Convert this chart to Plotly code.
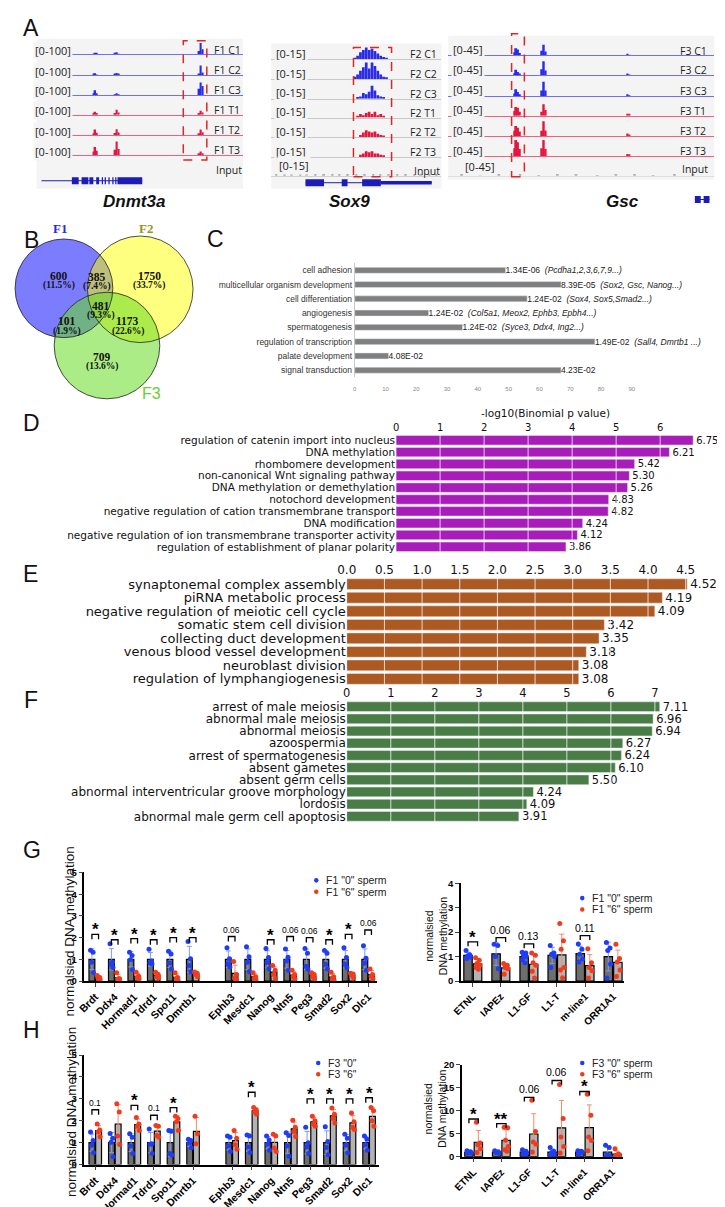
import statistics
import plotly.graph_objects as go

W, H = 725, 1207


def px(x):
    return x / W


def py(y):
    return 1 - y / H


# ---------------- A: browser tracks ----------------
dnmt_tracks = ["F1 C1", "F1 C2", "F1 C3", "F1 T1", "F1 T2", "F1 T3"]
dnmt_bins = [27.6, 28.4, 29.2, 38.1, 38.9, 39.7, 78.8, 79.6, 80.4]
dnmt_signal = [
    [4, 10, 5, 5, 12, 4, 20, 65, 30],
    [5, 11, 4, 6, 12, 5, 10, 55, 15],
    [8, 26, 10, 4, 8, 3, 35, 70, 50],
    [6, 17, 8, 10, 28, 12, 8, 22, 12],
    [12, 33, 15, 14, 35, 16, 12, 33, 18],
    [20, 46, 25, 30, 76, 35, 8, 20, 10],
]
dnmt_span = [2.4, 51.2]
dnmt_exons = [(17.1, 20.4), (21.8, 25.1), (25.6, 27.5), (28.9, 30.3), (31.6, 32.2),
              (33.0, 33.6), (34.8, 35.4), (36.7, 37.3), (38.1, 38.7), (39.2, 51.2)]

sox_tracks = ["F2 C1", "F2 C2", "F2 C3", "F2 T1", "F2 T2", "F2 T3"]
sox_bins = [49, 50.7, 52.4, 54.1, 55.8, 57.5, 59.2, 60.9, 62.6, 64.3, 66, 67.7]
sox_signal = [
    [1, 3, 6, 8, 10, 8, 9, 7, 5, 3, 2, 1],
    [2, 4, 7, 10, 14, 9, 14, 11, 7, 4, 2, 1],
    [0, 1, 2, 5, 4, 6, 11, 7, 3, 2, 1, 0],
    [0, 1, 3, 2, 4, 5, 3, 5, 2, 3, 1, 0],
    [0, 0, 2, 4, 6, 5, 4, 5, 3, 2, 1, 0],
    [0, 0, 2, 3, 5, 4, 5, 3, 3, 2, 1, 0],
]
sox_input_bins = [3, 8, 12, 17, 21, 26, 31, 36, 40, 45, 50, 55, 60, 64, 69, 74, 79, 84, 88, 93, 97]
sox_input = [1.2, 0.8, 1.5, 1.0, 2.0, 0.9, 1.6, 1.1, 0.8, 1.4, 1.0, 1.2, 0.9, 1.5, 1.1, 0.8,
             1.3, 1.0, 1.4, 0.9, 1.2]
sox_span = [20.1, 94.3]
sox_exons = [(20.1, 31.0), (41.4, 44.8), (53.4, 64.4)]
sox_utr = [(64.4, 94.3)]

gsc_tracks = ["F3 C1", "F3 C2", "F3 C3", "F3 T1", "F3 T2", "F3 T3"]
gsc_bins = [24.8, 25.5, 26.2, 26.9, 35.2, 35.9, 36.6, 67.4, 68.1]
gsc_signal = [
    [8, 18, 15, 6, 12, 27, 10, 2, 1],
    [5, 14, 8, 4, 15, 35, 12, 2, 1],
    [6, 17, 10, 4, 14, 36, 14, 2, 1],
    [12, 22, 20, 10, 10, 29, 14, 5, 2],
    [14, 26, 22, 12, 14, 38, 15, 7, 3],
    [20, 41, 35, 18, 20, 41, 18, 5, 3],
]
gsc_input_bins = [5, 12, 19, 27, 34, 41, 48, 56, 63, 70, 77, 85, 92]
gsc_input = [2, 1.5, 3, 2, 1.5, 2.5, 2, 1.5, 3, 2, 1.5, 2.5, 2]
gsc_span = [92.7, 98.2]
gsc_exons = [(92.7, 94.9), (96.0, 98.2)]

# ---------------- B: Venn ----------------
venn_regions = ["F1", "F1&F2", "F2", "F1&F2&F3", "F1&F3", "F2&F3", "F3"]
venn_counts = [600, 385, 1750, 481, 101, 1173, 709]

# ---------------- C ----------------
c_terms = ["cell adhesion", "multicellular organism development", "cell differentiation",
           "angiogenesis", "spermatogenesis", "regulation of transcription",
           "palate development", "signal transduction"]
c_counts = [49, 67, 56, 24, 35, 78, 11, 67]
c_pvals = ["1.34E-06", "8.39E-05", "1.24E-02", "1.24E-02", "1.24E-02", "1.49E-02",
           "4.08E-02", "4.23E-02"]
c_genes = ["(Pcdha1,2,3,6,7,9...)", "(Sox2, Gsc, Nanog...)", "(Sox4, Sox5,Smad2...)",
           "(Col5a1, Meox2, Ephb3, Epbh4...)", "(Syce3, Ddx4, Ing2...)", "(Sall4, Dmrtb1 ...)",
           "", ""]

# ---------------- D / E / F ----------------
d_terms = ["regulation of catenin import into nucleus", "DNA methylation", "rhombomere development",
           "non-canonical Wnt signaling pathway", "DNA methylation or demethylation",
           "notochord development", "negative regulation of cation transmembrane transport",
           "DNA modification", "negative regulation of ion transmembrane transporter activity",
           "regulation of establishment of planar polarity"]
d_vals = [6.75, 6.21, 5.42, 5.30, 5.26, 4.83, 4.82, 4.24, 4.12, 3.86]

e_terms = ["synaptonemal complex assembly", "piRNA metabolic process",
           "negative regulation of meiotic cell cycle", "somatic stem cell division",
           "collecting duct development", "venous blood vessel development",
           "neuroblast division", "regulation of lymphangiogenesis"]
e_vals = [4.52, 4.19, 4.09, 3.42, 3.35, 3.18, 3.08, 3.08]

f_terms = ["arrest of male meiosis", "abnormal male meiosis", "abnormal meiosis", "azoospermia",
           "arrest of spermatogenesis", "absent gametes", "absent germ cells",
           "abnormal interventricular groove morphology", "lordosis",
           "abnormal male germ cell apoptosis"]
f_vals = [7.11, 6.96, 6.94, 6.27, 6.24, 6.10, 5.50, 4.24, 4.09, 3.91]

# ---------------- G / H ----------------
genes = ["Brdt", "Ddx4", "Hormad1", "Tdrd1", "Spo11", "Dmrtb1",
         "Ephb3", "Mesdc1", "Nanog", "Ntn5", "Peg3", "Smad2", "Sox2", "Dlc1"]
gene_slots = [0, 1, 2, 3, 4, 5, 7, 8, 9, 10, 11, 12, 13, 14]
tes = ["ETNL", "IAPEz", "L1-GF", "L1-T", "m-line1", "ORR1A1"]
te_slots = [0, 1, 2, 3, 4, 5]

g_f1_0 = [[1.42, 1.33, 0.87, 0.38], [1.72, 0.88, 0.78, 0.62], [1.33, 1.17, 0.98, 0.52],
          [1.46, 0.92, 0.84, 0.78], [1.37, 1.25, 0.83, 0.55], [1.82, 1.03, 0.72, 0.43],
          [1.53, 1.02, 0.80, 0.65], [1.58, 1.12, 0.86, 0.44], [1.50, 1.08, 0.85, 0.57],
          [1.48, 1.10, 0.92, 0.50], [1.50, 1.28, 0.68, 0.54], [1.40, 1.28, 0.77, 0.55],
          [1.53, 1.08, 0.78, 0.61], [1.63, 1.05, 0.82, 0.50]]
g_f1_6 = [[0.25, 0.16, 0.12, 0.07], [0.38, 0.12, 0.08, 0.02], [0.40, 0.22, 0.16, 0.10],
          [0.40, 0.30, 0.20, 0.14], [0.38, 0.16, 0.10, 0.04], [0.42, 0.36, 0.30, 0.20],
          [0.90, 0.30, 0.14, 0.06], [0.38, 0.20, 0.12, 0.06], [0.72, 0.50, 0.30, 0.10],
          [0.50, 0.30, 0.20, 0.10], [0.38, 0.30, 0.18, 0.10], [0.40, 0.20, 0.10, 0.04],
          [0.36, 0.32, 0.26, 0.14], [0.55, 0.30, 0.22, 0.10]]
g_sig = ["*", "*", "*", "*", "*", "*", "0.06", "", "*", "0.06", "0.06", "*", "*", "0.06"]
g_bracket = [2.15, 1.9, 1.95, 1.9, 2.0, 2.0, 2.05, None, 1.9, 2.05, 2.0, 1.9, 2.15, 2.35]

g_te_0 = [[1.25, 1.08, 1.02, 0.98, 0.92], [1.50, 1.45, 1.00, 0.50],
          [1.18, 1.15, 1.05, 1.00, 0.87, 0.75], [1.45, 1.15, 1.10, 1.00, 0.55],
          [1.52, 1.30, 1.10, 0.90, 0.78], [1.58, 1.35, 1.25, 0.70, 0.12]]
g_te_6 = [[0.95, 0.85, 0.72, 0.65, 0.55, 0.48], [0.72, 0.65, 0.55, 0.50, 0.28],
          [1.15, 1.05, 0.75, 0.65, 0.40, 0.12], [2.35, 1.65, 1.30, 0.55, 0.45, 0.12],
          [1.32, 0.75, 0.55, 0.42, 0.12], [1.50, 0.92, 0.78, 0.45, 0.18]]
g_te_sig = ["*", "0.06", "0.13", "", "0.11", ""]
g_te_bracket = [1.6, 1.78, 1.52, None, 1.86, None]

h_f3_0 = [[1.48, 1.10, 0.88, 0.54], [1.42, 1.20, 1.02, 0.36], [1.40, 1.25, 0.85, 0.50],
          [1.62, 0.95, 0.93, 0.50], [1.55, 1.52, 0.50, 0.43], [1.15, 1.10, 0.98, 0.77],
          [1.30, 1.25, 0.85, 0.60], [1.35, 1.30, 0.80, 0.55], [1.30, 1.12, 0.93, 0.65],
          [1.45, 1.32, 0.85, 0.38], [1.70, 1.00, 0.80, 0.50], [1.72, 1.05, 0.78, 0.45],
          [1.38, 1.20, 0.88, 0.54], [1.30, 1.15, 0.90, 0.65]]
h_f3_6 = [[1.85, 1.58, 1.50, 1.27], [2.78, 2.40, 1.30, 0.92], [2.15, 1.85, 1.75, 1.55],
          [1.78, 1.75, 1.32, 1.25], [2.20, 2.10, 1.95, 1.55], [2.20, 1.40, 0.95],
          [1.55, 1.20, 0.90, 0.70], [2.60, 2.50, 2.40, 2.30], [1.38, 1.30, 0.75, 0.60],
          [2.02, 1.70, 1.50, 1.28], [2.20, 2.00, 1.85, 1.75], [2.58, 2.30, 2.10, 1.90],
          [2.35, 1.95, 1.70, 1.60], [2.60, 2.45, 2.00, 1.75]]
h_sig = ["0.1", "", "*", "0.1", "*", "", "", "*", "", "", "*", "*", "*", "*"]
h_bracket = [2.5, None, 2.7, 2.25, 2.6, None, None, 3.3, None, None, 3.0, 3.0, 3.0, 3.05]

h_te_0 = [[1.30, 1.05, 0.90, 0.80, 0.75], [1.30, 1.05, 0.90, 0.75],
          [1.50, 1.20, 1.00, 0.70, 0.60], [2.00, 1.20, 0.90, 0.50, 0.40],
          [1.30, 1.20, 1.05, 0.95, 0.50], [2.50, 2.00, 0.40, 0.10, 0.05]]
h_te_6 = [[7.5, 3.0, 2.6, 1.7, 0.9], [6.4, 6.3, 3.6, 2.2, 1.5, 1.2], [12.3, 5.5, 3.2, 2.7, 1.0],
          [15.7, 8.3, 4.3, 2.2, 0.8], [13.6, 9.0, 4.3, 3.5, 1.3], [1.7, 0.6, 0.3, 0.2, 0.1]]
h_te_sig = ["*", "**", "0.06", "0.06", "*", ""]
h_te_bracket = [8.2, 7.2, 12.9, 16.6, 14.2, None]

dot_jitter = [-0.07, 0.06, -0.02, 0.08, -0.05, 0.03]

BLUE_SIG = "#2a2ae8"
RED_SIG = "#e3163e"
GENE_COL = "#1c1cb8"
DOT_BLUE = "#1f3df5"
DOT_RED = "#f03c1e"

fig = go.Figure()
axes = {}
annotations = []
shapes = []
n_ax = 0


def new_axes(x0, x1, y0, y1, xkw, ykw):
    global n_ax
    n_ax += 1
    s = "" if n_ax == 1 else str(n_ax)
    axes["xaxis" + s] = dict(domain=[px(x0), px(x1)], anchor="y" + s, **xkw)
    axes["yaxis" + s] = dict(domain=[py(y1), py(y0)], anchor="x" + s, **ykw)
    return "x" + s, "y" + s


def note(x, y, text, size=11, color="#222", family="Liberation Sans", xanchor="center", **kw):
    annotations.append(dict(x=px(x), y=py(y), xref="paper", yref="paper", text=text,
                            showarrow=False, xanchor=xanchor, yanchor="middle",
                            font=dict(size=size, color=color, family=family), **kw))


def track(x0, x1, base, bins, vals, binw, scale, color, linecol):
    xa, ya = new_axes(x0, x1, base - 18, base,
                      dict(range=[0, 100], showline=True, linecolor=linecol, linewidth=1,
                           showgrid=False, zeroline=False, showticklabels=False, ticks=""),
                      dict(range=[0, scale], visible=False))
    fig.add_trace(go.Bar(x=bins, y=vals, width=binw, marker=dict(color=color, line_width=0),
                         xaxis=xa, yaxis=ya, showlegend=False, hoverinfo="skip"))
    return xa


def gene_model(x0, x1, yc, span, exons, utr=None):
    xa, ya = new_axes(x0, x1, yc - 6, yc + 6, dict(range=[0, 100], visible=False),
                      dict(range=[-1, 1], visible=False))
    fig.add_trace(go.Scatter(x=span, y=[0, 0], mode="lines", line=dict(color=GENE_COL, width=1),
                             xaxis=xa, yaxis=ya, showlegend=False, hoverinfo="skip"))
    for segs, w in [(exons, 7), (utr or [], 3.5)]:
        ex, ey = [], []
        for a, b in segs:
            ex += [a, b, None]
            ey += [0, 0, None]
        if ex:
            fig.add_trace(go.Scatter(x=ex, y=ey, mode="lines", line=dict(color=GENE_COL, width=w),
                                     xaxis=xa, yaxis=ya, showlegend=False, hoverinfo="skip"))


BG = "#f4f4f4"

# --- Dnmt3a
shapes.append(dict(type="rect", xref="paper", yref="paper", x0=px(19), x1=px(230), y0=py(177),
                   y1=py(25), fillcolor=BG, line_width=0, layer="below"))
dnmt_base = [41, 62, 82, 102, 123, 143]
for i, name in enumerate(dnmt_tracks):
    ctl = " C" in name
    xa = track(19, 230, dnmt_base[i], dnmt_bins, dnmt_signal[i], 0.8, 100,
               BLUE_SIG if ctl else RED_SIG, "#7070f0" if ctl else "#f06080")
    note(56, dnmt_base[i] - 4, "[0-100]", 11, family="Open Sans", xanchor="right", bgcolor=BG)
    note(198, dnmt_base[i] - 5, name, 10.5, family="Open Sans", xanchor="left")
    if i == 0:
        dnmt_x = xa
note(200, 158, "Input", 10.5, family="Open Sans", xanchor="left")
shapes.append(dict(type="rect", xref=dnmt_x, yref="paper", x0=71.1, x1=82.5, y0=py(148), y1=py(27),
                   line=dict(color="#e02525", width=1.5, dash="dash")))
gene_model(19, 230, 169, dnmt_span, dnmt_exons)
note(119, 190, "<b><i>Dnmt3a</i></b>", 17, color="#111")

# --- Sox9
shapes.append(dict(type="rect", xref="paper", yref="paper", x0=px(259), x1=px(433), y0=py(177),
                   y1=py(30), fillcolor=BG, line_width=0, layer="below"))
sox_base = [46, 66, 86, 105, 125, 145]
for i, name in enumerate(sox_tracks):
    ctl = " C" in name
    xa = track(259, 433, sox_base[i], sox_bins, sox_signal[i], 1.6, 15,
               BLUE_SIG if ctl else RED_SIG, "#c8c8c8")
    note(262, sox_base[i] - 6, "[0-15]", 11, family="Open Sans", xanchor="left", bgcolor=BG)
    note(399, sox_base[i] - 5, name, 10.5, family="Open Sans", xanchor="left")
    if i == 0:
        sox_x = xa
track(259, 433, 164, sox_input_bins, sox_input, 1.0, 15, "#a8a8a8", "#d0d0d0")
note(265, 154, "[0-15]", 11, family="Open Sans", xanchor="left", bgcolor=BG)
note(403, 159, "Input", 10.5, family="Open Sans", xanchor="left")
shapes.append(dict(type="rect", xref=sox_x, yref="paper", x0=48.3, x1=70.7, y0=py(165), y1=py(34),
                   line=dict(color="#e02525", width=1.5, dash="dash")))
gene_model(259, 433, 171, sox_span, sox_exons, sox_utr)
note(339, 190, "<b><i>Sox9</i></b>", 17, color="#111")

# --- Gsc
shapes.append(dict(type="rect", xref="paper", yref="paper", x0=px(440), x1=px(712), y0=py(168),
                   y1=py(22), fillcolor=BG, line_width=0, layer="below"))
gsc_base = [42, 62, 83, 103, 124, 144]
for i, name in enumerate(gsc_tracks):
    ctl = " C" in name
    xa = track(440, 712, gsc_base[i], gsc_bins, gsc_signal[i], 0.7, 45,
               BLUE_SIG if ctl else RED_SIG, "#7070f0" if ctl else "#f06080")
    note(443, gsc_base[i] - 6, "[0-45]", 11, family="Open Sans", xanchor="left", bgcolor=BG)
    note(675, gsc_base[i] - 5, name, 10.5, family="Open Sans", xanchor="left")
    if i == 0:
        gsc_x = xa
track(440, 712, 164, gsc_input_bins, gsc_input, 1.0, 45, "#b0b0b0", "#dedede")
note(455, 155, "[0-45]", 11, family="Open Sans", xanchor="left", bgcolor=BG)
note(677, 157, "Input", 10.5, family="Open Sans", xanchor="left")
shapes.append(dict(type="rect", xref=gsc_x, yref="paper", x0=23.8, x1=28.6, y0=py(165), y1=py(20),
                   line=dict(color="#e02525", width=1.5, dash="dash")))
gene_model(440, 712, 188, gsc_span, gsc_exons)
note(618, 190, "<b><i>Gsc</i></b>", 17, color="#111")

# ---------------- B: Venn ----------------
circles = [((47, 278), 50, "#5050ff", 0.75), ((125, 279), 54, "#ffff00", 0.5),
           ((91, 336), 54, "#66dd22", 0.55)]
for (cx, cy), r, col, op in circles:
    shapes.append(dict(type="circle", xref="paper", yref="paper", x0=px(cx - r), x1=px(cx + r),
                       y0=py(cy + r), y1=py(cy - r), fillcolor=col, opacity=op, line_width=0))
for (cx, cy), r, col, op in circles:
    shapes.append(dict(type="circle", xref="paper", yref="paper", x0=px(cx - r), x1=px(cx + r),
                       y0=py(cy + r), y1=py(cy - r), line=dict(color="#222", width=0.8)))
venn_pos = [(42, 265.5), (81, 266.5), (134, 265.5), (85, 295.5), (50, 311.5), (112, 311.5),
            (86, 347.5)]
venn_total = sum(venn_counts)
for (vx, vy), c in zip(venn_pos, venn_counts):
    note(vx, vy, "<b>%d</b>" % c, 11.5, color="#111", family="Liberation Serif")
    note(vx, vy + 10, "<b>(%.1f%%)</b>" % (100 * c / venn_total), 9.5, color="#111",
         family="Liberation Serif")
note(43, 217, "<b>F1</b>", 13, color="#2a2ae0", family="Liberation Serif")
note(131, 217, "<b>F2</b>", 13, color="#9c9420", family="Liberation Serif")
note(137, 385, "F3", 16, color="#6ccc35")

# ---------------- C ----------------
c_idx = list(range(len(c_terms)))
xa, ya = new_axes(344.3, 627.7, 252.5, 368.2,
                  dict(range=[0, 90], dtick=10, showgrid=False, zeroline=False, showline=False,
                       ticks="outside", ticklen=5, tickcolor="rgba(0,0,0,0)",
                       tickfont=dict(size=6, color="#888")),
                  dict(range=[len(c_terms) - 0.5, -0.5], tickvals=c_idx, ticktext=c_terms,
                       showgrid=False, showline=True, zeroline=False,
                       linecolor="#c8c8c8", ticks="", tickfont=dict(size=8.5, color="#333")))
fig.add_trace(go.Bar(y=c_idx, x=c_counts, orientation="h", width=0.42, marker_color="#808080",
                     text=["%s  <i>%s</i>" % (p, g) for p, g in zip(c_pvals, c_genes)],
                     textposition="outside", cliponaxis=False, constraintext="none",
                     outsidetextfont=dict(size=8.5, color="#222"),
                     xaxis=xa, yaxis=ya, showlegend=False, hoverinfo="skip"))


# ---------------- D / E / F ----------------
def hbar(terms, vals, color, x0, x1, xr, y0, y1, tickvals, tickfmt, fsize, vsize, grid):
    idx = list(range(len(terms)))
    xa, ya = new_axes(x0, x1, y0, y1,
                      dict(range=xr, side="top", tickvals=tickvals, tickformat=tickfmt,
                           showgrid=False, zeroline=False, showline=False, ticks="",
                           tickfont=dict(size=vsize, family="DejaVu Sans", color="#111")),
                      dict(range=[len(terms) - 0.5, -0.5], tickvals=idx, ticktext=terms,
                           showgrid=False, showline=False, zeroline=False, ticks="",
                           tickfont=dict(size=fsize, family="DejaVu Sans", color="#111")))
    fig.add_trace(go.Bar(y=idx, x=vals, orientation="h", width=0.8, marker_color=color,
                         texttemplate="%{x:.2f}", textposition="outside", cliponaxis=False,
                         constraintext="none",
                         outsidetextfont=dict(size=vsize, family="DejaVu Sans", color="#111"),
                         xaxis=xa, yaxis=ya, showlegend=False, hoverinfo="skip"))
    for g in grid:
        shapes.append(dict(type="line", xref=xa, yref=ya + " domain", x0=g, x1=g, y0=0, y1=1,
                           line=dict(color="rgba(255,255,255,0.75)", width=1), layer="above"))
    return xa, ya


hbar(d_terms, d_vals, "#a81cba", 386.6, 690.4, [0, 6.75], 426, 546, [0, 1, 2, 3, 4, 5, 6], "d",
     10.5, 10, [1, 2, 3, 4, 5, 6])
note(539, 404, "-log10(Binomial p value)", 10.5, color="#111", family="DejaVu Sans")
hbar(e_terms, e_vals, "#ad5a22", 336.2, 686.6, [0, 4.55], 571, 680.7,
     [0, 0.5, 1, 1.5, 2, 2.5, 3, 3.5, 4, 4.5], ".1f", 13, 12,
     [0.5, 1, 1.5, 2, 2.5, 3, 3.5, 4, 4.5])
hbar(f_terms, f_vals, "#4a7d45", 336.2, 658, [0, 7.15], 695.8, 819.3,
     [0, 1, 2, 3, 4, 5, 6, 7], "d", 12, 11.5, [1, 2, 3, 4, 5, 6, 7])


# ---------------- G / H ----------------
def dot_panel(x0, x1, y0, y1, xr, yr, dtick, labels, slots, reps0, reps6, sig, tops,
              star_size, p_size, tick_size):
    xa, ya = new_axes(x0, x1, y0, y1,
                      dict(range=xr, tickvals=slots, ticktext=labels, tickangle=-45,
                           showgrid=False, zeroline=False, showline=True, linecolor="black",
                           linewidth=1.5, ticks="outside", ticklen=4, tickwidth=1.3,
                           tickfont=dict(size=tick_size, color="black", weight="bold")),
                      dict(range=yr, dtick=dtick, showgrid=False, zeroline=False, showline=True,
                           linecolor="black", linewidth=1.5, ticks="outside", ticklen=4,
                           tickwidth=1.3, tickfont=dict(size=9.5, color="black", weight="bold")))
    off, bw = 0.17, 0.3
    for reps, sign, fill, ecol, dcol in [
        (reps0, -1, "#6e6e6e", "#7d98ff", DOT_BLUE),
        (reps6, 1, "#b3b3b3", "#f58a6a", DOT_RED),
    ]:
        means = [statistics.mean(r) for r in reps]
        sds = [statistics.stdev(r) for r in reps]
        xs = [s + sign * off for s in slots]
        fig.add_trace(go.Bar(x=xs, y=means, width=bw,
                             marker=dict(color=fill, line=dict(color="black", width=1.2)),
                             error_y=dict(type="data", array=sds, color=ecol, thickness=1, width=2.5),
                             xaxis=xa, yaxis=ya, showlegend=False, hoverinfo="skip"))
        dx, dy = [], []
        for s, r in zip(xs, reps):
            for j, v in enumerate(r):
                dx.append(s + dot_jitter[j % len(dot_jitter)])
                dy.append(v)
        fig.add_trace(go.Scatter(x=dx, y=dy, mode="markers", marker=dict(color=dcol, size=5),
                                 cliponaxis=False, xaxis=xa, yaxis=ya, showlegend=False,
                                 hoverinfo="skip"))
    drop = (yr[1] - yr[0]) * 0.045
    bx, by = [], []
    for s, t, lab in zip(slots, tops, sig):
        if t is None:
            continue
        bx += [s - off, s - off, s + off, s + off, None]
        by += [t - drop, t, t, t - drop, None]
        star = lab.startswith("*")
        annotations.append(dict(x=s, y=t, xref=xa, yref=ya, text=("<b>%s</b>" % lab) if star else lab,
                                showarrow=False, yanchor="bottom",
                                yshift=-7 if star else 0,
                                font=dict(size=star_size if star else p_size, color="black")))
    fig.add_trace(go.Scatter(x=bx, y=by, mode="lines", line=dict(color="black", width=1.3),
                             xaxis=xa, yaxis=ya, showlegend=False, hoverinfo="skip"))


dot_panel(68, 367, 870, 980, [-0.55, 14.45], [0, 5], 1, genes, gene_slots, g_f1_0, g_f1_6,
          g_sig, g_bracket, 17, 8.5, 10.5)
dot_panel(453, 620, 881, 980, [-0.42, 5.4], [0, 4], 1, tes, te_slots, g_te_0, g_te_6,
          g_te_sig, g_te_bracket, 17, 10.5, 10)
dot_panel(68, 369, 1055, 1166, [-0.55, 14.5], [0, 5], 1, genes, gene_slots, h_f3_0, h_f3_6,
          h_sig, h_bracket, 17, 8.5, 10.5)
dot_panel(454, 619, 1065, 1158, [-0.42, 5.4], [0, 20], 5, tes, te_slots, h_te_0, h_te_6,
          h_te_sig, h_te_bracket, 17, 10.5, 10)


# compact legends (dot + label)
def legend_pair(x, y, labels, gap=11.5):
    for k, (lab, col) in enumerate(zip(labels, [DOT_BLUE, DOT_RED])):
        yy = y + k * gap
        shapes.append(dict(type="circle", xref="paper", yref="paper", x0=px(x - 2.3), x1=px(x + 2.3),
                           y0=py(yy + 2.3), y1=py(yy - 2.3), fillcolor=col, line_width=0))
        note(x + 8, yy, lab, 10.5, color="#222", xanchor="left")


legend_pair(305, 878, ['F1 "0" sperm', 'F1 "6" sperm'])
legend_pair(577, 896, ['F1 "0" sperm', 'F1 "6" sperm'])
legend_pair(307, 1063, ['F3 "0"', 'F3 "6"'])
legend_pair(577, 1063, ['F3 "0" sperm', 'F3 "6" sperm'])

note(53, 930, "normalsied DNA methylation", 13.5, color="#111", textangle=-90)
note(54, 1113, "normalsied DNA methylation", 13.5, color="#111", textangle=-90)
note(427, 935, "normalsied<br>DNA methylation", 10.5, color="#111", textangle=-90)
note(427, 1110, "normalsied<br>DNA methylation", 10.5, color="#111", textangle=-90)

# panel letters
for letter, lx, ly in [("A", 13, 14), ("B", 14, 229), ("C", 202, 228), ("D", 14, 415),
                       ("E", 13, 568), ("F", 13, 695), ("G", 14, 847), ("H", 14, 1030)]:
    note(lx, ly, letter, 23, color="#111")

fig.update_layout(
    width=W, height=H, margin=dict(l=0, r=0, t=0, b=0),
    paper_bgcolor="white", plot_bgcolor="white",
    font=dict(family="Liberation Sans, Arial", color="#111"),
    barmode="overlay", hovermode=False, showlegend=False,
    annotations=annotations, shapes=shapes, **axes,
)

fig.write_html("out.html", config={"displayModeBar": False})
